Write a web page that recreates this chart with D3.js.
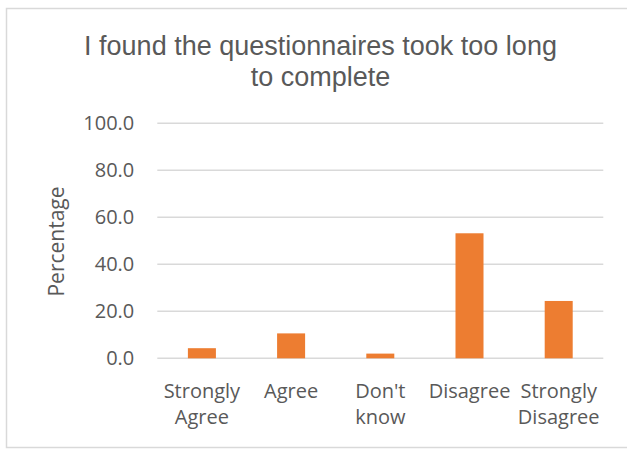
<!DOCTYPE html>
<html>
<head>
  <meta charset="utf-8" />
  <style>
    body { margin: 0; background: #fff; }
    svg text { fill: #595959; }
  </style>
</head>
<body>
  <svg width="627" height="450"></svg>

  <script src="https://d3js.org/d3.v7.min.js"></script>
  <script>
    // chart data
    var categories = ["Strongly Agree", "Agree", "Don't know", "Disagree", "Strongly Disagree"];
    var percentages = [4.3, 10.6, 2.0, 53.2, 24.4];
    var yTicks = [0, 20, 40, 60, 80, 100];
    var titleLines = ["I found the questionnaires took too long", "to complete"];
    var yTitle = "Percentage";

    var svg = d3.select("svg");

    // outer chart border
    svg.append("rect")
      .attr("x", 6.5).attr("y", 8.5)
      .attr("width", 640).attr("height", 439)
      .attr("fill", "none")
      .attr("stroke", "#d9d9d9")
      .attr("stroke-width", 1.5);

    var x = d3.scaleBand()
      .domain(categories)
      .range([157.3, 603.3])
      .paddingInner(0.686)
      .paddingOuter(0.343);

    var y = d3.scaleLinear().domain([0, 100]).range([358.3, 123.3]);

    // gridlines
    svg.append("g")
      .selectAll("line")
      .data(yTicks)
      .enter()
      .append("line")
      .attr("x1", 157.3)
      .attr("x2", 603.3)
      .attr("y1", function (d) { return y(d); })
      .attr("y2", function (d) { return y(d); })
      .attr("stroke", "#d9d9d9")
      .attr("stroke-width", 1.5);

    // y axis labels
    var yAxis = d3.axisLeft(y).tickValues(yTicks).tickSize(0).tickPadding(23)
      .tickFormat(d3.format(".1f"));
    var yg = svg.append("g").attr("transform", "translate(157.3,0)").call(yAxis);
    yg.select(".domain").remove();
    yg.selectAll("text")
      .attr("font-family", "Open Sans")
      .attr("font-size", 20)
      .style("fill", "#595959");

    // bars
    svg.append("g")
      .selectAll("rect")
      .data(percentages)
      .enter()
      .append("rect")
      .attr("x", function (d, i) { return x(categories[i]); })
      .attr("width", x.bandwidth())
      .attr("y", function (d) { return y(d); })
      .attr("height", function (d) { return y(0) - y(d); })
      .attr("fill", "#ed7d31");

    // category labels, wrapped on spaces
    var lab = svg.append("g")
      .selectAll("text")
      .data(categories)
      .enter()
      .append("text")
      .attr("font-family", "Open Sans")
      .attr("font-size", 20)
      .attr("text-anchor", "middle")
      .attr("transform", function (d) {
        return "translate(" + (x(d) + x.bandwidth() / 2) + ",398)";
      });
    lab.selectAll("tspan")
      .data(function (d) { return d.split(" "); })
      .enter()
      .append("tspan")
      .attr("x", 0)
      .attr("dy", function (d, i) { return i === 0 ? 0 : 26; })
      .text(function (d) { return d; });

    // axis title
    svg.append("text")
      .attr("transform", "translate(64,241.5) rotate(-90)")
      .attr("text-anchor", "middle")
      .attr("font-family", "Open Sans")
      .attr("font-size", 21)
      .text(yTitle);

    // chart title
    svg.append("text")
      .attr("text-anchor", "middle")
      .attr("font-family", "Liberation Sans")
      .attr("font-size", 27)
      .selectAll("tspan")
      .data(titleLines)
      .enter()
      .append("tspan")
      .attr("x", 320.5)
      .attr("y", function (d, i) { return 54.5 + i * 31; })
      .text(function (d) { return d; });
  </script>
</body>
</html>
